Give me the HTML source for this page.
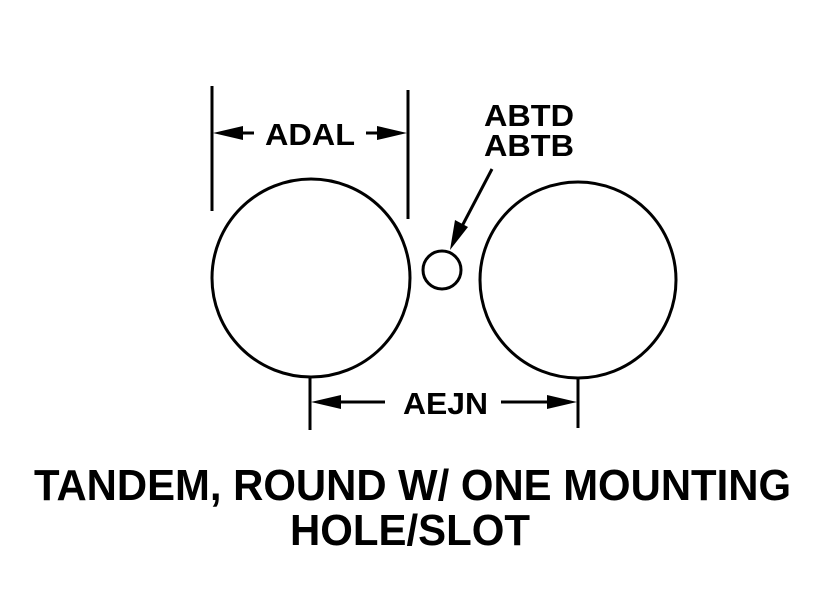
<!DOCTYPE html>
<html><head><style>html,body{margin:0;padding:0;background:#fff;}svg{display:block}</style></head>
<body>
<svg width="824" height="604" viewBox="0 0 824 604" xmlns="http://www.w3.org/2000/svg">
<g fill="none" stroke="#000" stroke-width="3">
<circle cx="311" cy="278" r="99"/>
<circle cx="578" cy="280" r="98"/>
<circle cx="442" cy="270" r="19"/>
<line x1="212" y1="86" x2="212" y2="211"/>
<line x1="408" y1="90" x2="408" y2="219"/>
<line x1="240" y1="133" x2="254" y2="133"/>
<line x1="366" y1="133" x2="382" y2="133"/>
<line x1="310" y1="377" x2="310" y2="430"/>
<line x1="578" y1="378" x2="578" y2="428"/>
<line x1="338" y1="402" x2="385" y2="402"/>
<line x1="501" y1="402" x2="550" y2="402"/>
<line x1="492" y1="169" x2="460" y2="230"/>
</g>
<g fill="#000">
<polygon points="213,133 243,126 243,140"/>
<polygon points="407,133 377,126 377,140"/>
<polygon points="311,402 341,395 341,409"/>
<polygon points="577,402 547,395 547,409"/>
<polygon points="450,250 455,220 468,227"/>
</g>
<g font-family="Liberation Sans, sans-serif" font-weight="bold" fill="#000">
<text x="265" y="145" font-size="31" textLength="90" lengthAdjust="spacingAndGlyphs">ADAL</text>
<text x="484" y="126" font-size="31" textLength="90" lengthAdjust="spacingAndGlyphs">ABTD</text>
<text x="484" y="156" font-size="31" textLength="90" lengthAdjust="spacingAndGlyphs">ABTB</text>
<text x="403" y="414" font-size="31" textLength="85" lengthAdjust="spacingAndGlyphs">AEJN</text>
<text x="34" y="500" font-size="44" textLength="757" lengthAdjust="spacingAndGlyphs">TANDEM, ROUND W/ ONE MOUNTING</text>
<text x="290" y="545" font-size="44" textLength="240" lengthAdjust="spacingAndGlyphs">HOLE/SLOT</text>
</g>
</svg>
</body></html>
